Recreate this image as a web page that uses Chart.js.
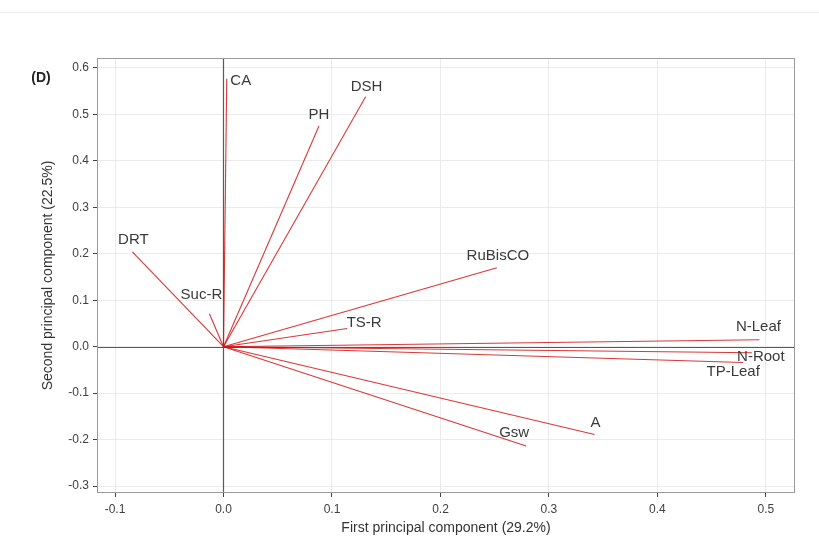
<!DOCTYPE html>
<html>
<head>
<meta charset="utf-8">
<script src="https://cdn.jsdelivr.net/npm/chart.js@4.4.0/dist/chart.umd.min.js"></script>
<style>
  html, body { margin: 0; padding: 0; background: #fff; }
  #wrap { position: relative; width: 819px; height: 552px; }
  #topline { position: absolute; left: 0; top: 12px; width: 819px; height: 1px; background: #ececec; }
</style>
</head>
<body>
<div id="wrap">
  <div id="topline"></div>
  <canvas id="pcaChart" width="819" height="552"></canvas>
</div>
<script>
/* PCA loadings biplot */

const variables = ['CA', 'PH', 'DSH', 'DRT', 'Suc-R', 'RuBisCO', 'TS-R', 'N-Leaf', 'N-Root', 'TP-Leaf', 'A', 'Gsw'];
const pc1 = [0.003, 0.088, 0.131, -0.084, -0.013, 0.252, 0.114, 0.494, 0.487, 0.479, 0.342, 0.279];
const pc2 = [0.577, 0.475, 0.538, 0.204, 0.071, 0.170, 0.039, 0.015, -0.013, -0.034, -0.189, -0.214];

const xTicks = [-0.1, 0.0, 0.1, 0.2, 0.3, 0.4, 0.5];
const yTicks = [-0.3, -0.2, -0.1, 0.0, 0.1, 0.2, 0.3, 0.4, 0.5, 0.6];

// label offsets in pixels from the arrow tip
const labelNudge = {
    'CA': [14, 2], 'PH': [0, -11], 'DSH': [1, -10], 'DRT': [1, -12],
    'Suc-R': [-8, -19], 'RuBisCO': [1, -12], 'TS-R': [17, -6],
    'N-Leaf': [-1, -13], 'N-Root': [9, 4], 'TP-Leaf': [-10, 9],
    'A': [1, -12], 'Gsw': [-12, -13]
};

const datasets = variables.map((name, i) => ({
    label: name,
    data: [{ x: 0, y: 0 }, { x: pc1[i], y: pc2[i] }],
    showLine: true,
    borderColor: 'rgba(212, 20, 20, 0.85)',
    borderWidth: 1.1,
    pointRadius: 0,
    pointHoverRadius: 0
}));

const labelsPlugin = {
    id: 'vectorLabels',
    beforeDatasetsDraw(chart) {
        // reference lines through the origin
        const { ctx, chartArea: a, scales: { x, y } } = chart;
        const x0 = Math.round(x.getPixelForValue(0)) + 0.5;
        const y0 = Math.round(y.getPixelForValue(0)) + 0.5;
        ctx.save();
        ctx.strokeStyle = '#5a5a5a';
        ctx.lineWidth = 1.2;
        ctx.beginPath();
        ctx.moveTo(x0, a.top);
        ctx.lineTo(x0, a.bottom);
        ctx.moveTo(a.left, y0);
        ctx.lineTo(a.right, y0);
        ctx.stroke();
        ctx.restore();
    },
    afterDatasetsDraw(chart) {
        const { ctx, scales: { x, y } } = chart;
        ctx.save();
        ctx.font = '15px "Liberation Sans", Arial, sans-serif';
        ctx.fillStyle = '#3a3a3a';
        ctx.textAlign = 'center';
        ctx.textBaseline = 'middle';
        variables.forEach((name, i) => {
            const n = labelNudge[name] || [0, -12];
            ctx.fillText(name, x.getPixelForValue(pc1[i]) + n[0], y.getPixelForValue(pc2[i]) + n[1]);
        });
        ctx.restore();
    },
    afterDraw(chart) {
        const { ctx, chartArea: a } = chart;
        ctx.save();
        ctx.strokeStyle = '#9a9a9a';
        ctx.lineWidth = 1;
        ctx.strokeRect(a.left + 0.5, a.top + 0.5, a.right - a.left - 1, a.bottom - a.top - 1);
        ctx.font = 'bold 14px "Liberation Sans", Arial, sans-serif';
        ctx.fillStyle = '#222';
        ctx.textAlign = 'center';
        ctx.textBaseline = 'middle';
        ctx.fillText('(D)', 41, 78);
        ctx.restore();
    }
};

const tickFont = { size: 12, family: '"Liberation Sans", Arial, sans-serif' };
const titleFont = { size: 14, family: '"Liberation Sans", Arial, sans-serif' };

new Chart(document.getElementById('pcaChart'), {
    type: 'scatter',
    data: { datasets: datasets },
    options: {
        responsive: false,
        animation: false,
        layout: { padding: { left: 36, right: 24, top: 58, bottom: 15 } },
        scales: {
            x: {
                type: 'linear',
                min: -0.1166,
                max: 0.5268,
                afterBuildTicks: (scale) => { scale.ticks = xTicks.map(v => ({ value: v })); },
                afterFit: (scale) => { scale.height = 44; },
                grid: { color: '#ebebeb', tickColor: '#444', tickLength: 4, lineWidth: 1 },
                border: { display: false },
                ticks: {
                    color: '#404040',
                    font: tickFont,
                    padding: 5,
                    maxRotation: 0,
                    callback: (v) => Number(v).toFixed(1)
                },
                title: {
                    display: true,
                    text: 'First principal component (29.2%)',
                    color: '#333',
                    font: titleFont,
                    padding: { top: 1, bottom: 0 }
                }
            },
            y: {
                type: 'linear',
                min: -0.315,
                max: 0.6215,
                afterBuildTicks: (scale) => { scale.ticks = yTicks.map(v => ({ value: v })); },
                afterFit: (scale) => { scale.width = 61; },
                grid: { color: '#ebebeb', tickColor: '#444', tickLength: 4, lineWidth: 1 },
                border: { display: false },
                ticks: {
                    color: '#404040',
                    font: tickFont,
                    padding: 4,
                    callback: (v) => Number(v).toFixed(1)
                },
                title: {
                    display: true,
                    text: 'Second principal component (22.5%)',
                    color: '#333',
                    font: titleFont,
                    padding: { top: 4, bottom: 4 }
                }
            }
        },
        plugins: {
            legend: { display: false },
            tooltip: { enabled: false }
        }
    },
    plugins: [labelsPlugin]
});
</script>
</body>
</html>
